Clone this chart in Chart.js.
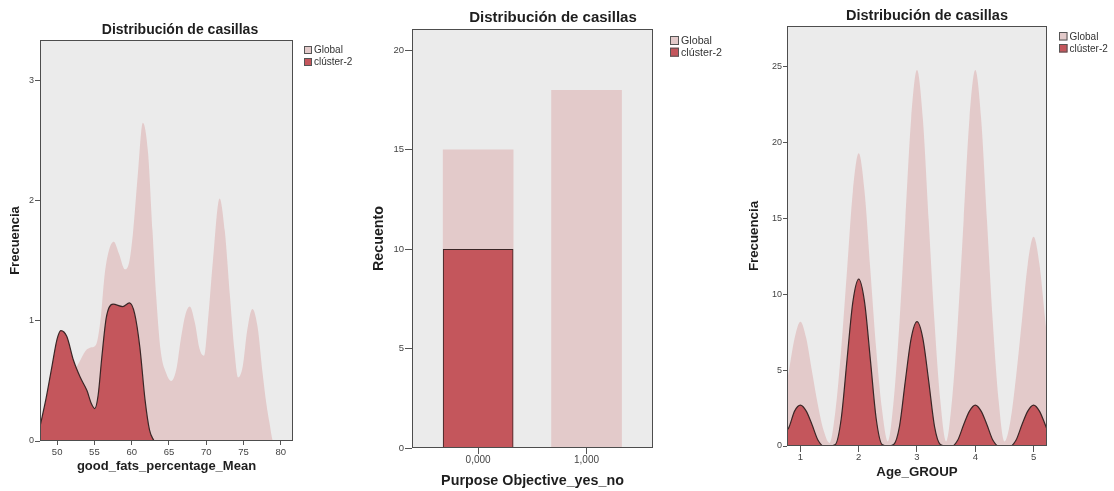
<!DOCTYPE html>
<html>
<head>
<meta charset="utf-8">
<script src="https://cdn.jsdelivr.net/npm/chart.js@4.4.1/dist/chart.umd.min.js"></script>
<style>
  body { margin: 0; background: #fff; width: 1114px; height: 491px; position: relative; overflow: hidden; }
  canvas { position: absolute; top: 0; }
</style>
</head>
<body>
<canvas id="fatChart" width="370" height="491" style="left:0"></canvas>
<canvas id="purposeChart" width="370" height="491" style="left:370px"></canvas>
<canvas id="ageChart" width="374" height="491" style="left:740px"></canvas>
<script>
// panel 1: good_fats_percentage_Mean (density)
const fatGlobalX = [47.7, 48.5, 50, 51, 52, 53, 53.8, 54.6, 55.2, 55.8, 56.4, 57, 57.6, 58.3, 59.1, 59.7, 60.2, 60.8, 61.5, 62.2, 62.8, 63.3, 63.9, 64.6, 65.3, 66, 66.6, 67.2, 67.8, 68.5, 69.1, 69.7, 70.3, 70.9, 71.8, 72.5, 73.2, 73.8, 74.3, 74.9, 75.5, 76.2, 76.9, 77.6, 78.1, 78.5, 79, 81.7];
const fatGlobal  = [0.08, 0.15, 0.3, 0.42, 0.55, 0.66, 0.75, 0.78, 0.8, 1.0, 1.4, 1.6, 1.66, 1.56, 1.43, 1.5, 1.75, 2.2, 2.65, 2.4, 1.75, 1.2, 0.75, 0.57, 0.5, 0.6, 0.85, 1.05, 1.12, 0.98, 0.77, 0.71, 1.05, 1.5, 2.02, 1.75, 1.2, 0.75, 0.53, 0.62, 0.92, 1.1, 0.95, 0.55, 0.3, 0.15, 0, 0];
const fatClusterX = [47.7, 48.5, 49.3, 50, 50.5, 51.3, 52.2, 53.1, 54, 54.6, 55.05, 55.5, 56, 56.6, 57.5, 58.8, 59.7, 60.4, 61.1, 61.8, 62.4, 63];
const fatCluster  = [0.12, 0.35, 0.62, 0.85, 0.92, 0.87, 0.67, 0.53, 0.42, 0.31, 0.27, 0.38, 0.7, 1.03, 1.14, 1.12, 1.15, 1.06, 0.78, 0.34, 0.09, 0];
const fatTicksX = [50, 55, 60, 65, 70, 75, 80];
const fatTicksY = [0, 1, 2, 3];

// panel 2: Purpose Objective_yes_no (counts)
const purposeCats    = [0, 1];
const purposeGlobal  = [15, 18];
const purposeCluster = [10, 0];
const purposeTicksY  = [0, 5, 10, 15, 20];

// panel 3: Age_GROUP (density)
const ageX = [0.77, 0.8, 0.9, 1.0, 1.1, 1.2, 1.3, 1.4, 1.5, 1.6, 1.7, 1.8, 1.9, 2.0, 2.1, 2.2, 2.3, 2.4, 2.5, 2.6, 2.7, 2.8, 2.9, 3.0, 3.1, 3.2, 3.3, 3.4, 3.5, 3.6, 3.7, 3.8, 3.9, 4.0, 4.1, 4.2, 4.3, 4.4, 4.5, 4.6, 4.7, 4.8, 4.9, 5.0, 5.1, 5.2, 5.23];
const ageGlobal  = [4.3, 4.9, 7.1, 8.2, 7.1, 4.9, 2.7, 1.0, 0.2, 2.3, 6.4, 11.6, 16.8, 19.3, 16.8, 11.6, 6.4, 2.4, 0.3, 3.0, 8.2, 14.9, 21.6, 24.8, 21.6, 14.9, 8.2, 3.0, 0.3, 3.0, 8.2, 14.9, 21.6, 24.8, 21.6, 14.9, 8.2, 3.0, 0.3, 1.6, 4.6, 8.3, 12.0, 13.8, 12.0, 8.3, 7.2];
const ageCluster = [1.05, 1.2, 2.3, 2.7, 2.3, 1.4, 0.4, 0, 0, 0.1, 1.8, 5.7, 9.5, 11.0, 9.5, 5.7, 1.8, 0.1, 0, 0.1, 1.3, 4.3, 7.1, 8.2, 7.1, 4.3, 1.3, 0.1, 0, 0, 0.4, 1.4, 2.3, 2.7, 2.3, 1.4, 0.4, 0, 0, 0, 0.4, 1.4, 2.3, 2.7, 2.3, 1.4, 1.1];
const ageTicksX = [1, 2, 3, 4, 5];
const ageTicksY = [0, 5, 10, 15, 20, 25];

const GLOBAL_FILL = '#e3caca';
const CLUSTER_FILL = '#c4565c';
const OUTLINE = '#3a2626';
const FONT = '"Liberation Sans", Arial, sans-serif';

const toPoints = (xs, ys) => xs.map((x, i) => ({ x, y: ys[i] }));

// plot background, frame, title and the little legend at the right
const panelDecor = {
  id: 'panelDecor',
  beforeDraw(chart) {
    const { ctx, chartArea: a } = chart;
    ctx.save();
    ctx.fillStyle = '#ebebeb';
    ctx.fillRect(a.left, a.top, a.right - a.left, a.bottom - a.top);
    ctx.restore();
  },
  afterDraw(chart, args, o) {
    const { ctx, chartArea: a } = chart;
    ctx.save();
    ctx.strokeStyle = '#4d4d4d';
    ctx.lineWidth = 1;
    ctx.strokeRect(Math.round(a.left) + 0.5, Math.round(a.top) + 0.5,
      Math.round(a.right - a.left) - 1, Math.round(a.bottom - a.top) - 1);

    ctx.fillStyle = '#1e1e1e';
    ctx.font = 'bold ' + o.titleSize + 'px ' + FONT;
    ctx.textAlign = 'center';
    ctx.textBaseline = 'middle';
    ctx.fillText(o.title, o.titleX, o.titleY);

    ctx.font = o.legendSize + 'px ' + FONT;
    ctx.textAlign = 'left';
    chart.data.datasets.forEach((ds, i) => {
      const y = o.legendY + i * o.legendStep;
      ctx.fillStyle = ds.backgroundColor;
      ctx.fillRect(o.legendX, y, o.box, o.box);
      ctx.strokeStyle = '#555';
      ctx.strokeRect(o.legendX + 0.5, y + 0.5, o.box - 1, o.box - 1);
      ctx.fillStyle = '#333';
      ctx.fillText(ds.label, o.legendX + o.box + 2, y + o.box / 2 + 0.5);
    });
    ctx.restore();
  }
};

function makeAxis(opts) {
  return {
    type: 'linear',
    min: opts.min,
    max: opts.max,
    offset: false,
    afterBuildTicks: axis => { axis.ticks = opts.ticks.map(v => ({ value: v })); },
    afterFit: axis => {
      if (opts.vertical) axis.width = opts.size; else axis.height = opts.size;
    },
    border: { display: false },
    grid: { display: true, offset: false, drawOnChartArea: false, drawTicks: true, tickLength: opts.tickLength, color: '#555' },
    ticks: {
      autoSkip: false, maxRotation: 0, color: '#444', padding: opts.tickPad,
      font: { family: FONT, size: opts.tickSize },
      callback: opts.fmt || (v => v)
    },
    title: {
      display: true, text: opts.title, color: '#1e1e1e',
      font: { family: FONT, size: opts.titleSize, weight: 'bold' },
      padding: opts.vertical ? { top: opts.titlePad, bottom: 0 } : { top: 0, bottom: opts.titlePad }
    }
  };
}

function densityDatasets(gx, gy, cx, cy) {
  return [
    {
      label: 'Global', data: toPoints(gx, gy), order: 2,
      fill: 'origin', backgroundColor: GLOBAL_FILL, borderWidth: 0,
      pointRadius: 0, tension: 0.4, cubicInterpolationMode: 'monotone'
    },
    {
      label: 'clúster-2', data: toPoints(cx, cy), order: 1,
      fill: 'origin', backgroundColor: CLUSTER_FILL, borderColor: OUTLINE, borderWidth: 1.2,
      pointRadius: 0, tension: 0.4, cubicInterpolationMode: 'monotone'
    }
  ];
}

const common = {
  responsive: false,
  animation: false,
  events: [],
  plugins: { legend: { display: false }, tooltip: { enabled: false } }
};

new Chart(document.getElementById('fatChart'), {
  type: 'line',
  data: { datasets: densityDatasets(fatGlobalX, fatGlobal, fatClusterX, fatCluster) },
  options: {
    ...common,
    layout: { padding: { left: 0, top: 40, right: 77, bottom: 0 } },
    plugins: {
      ...common.plugins,
      panelDecor: { title: 'Distribución de casillas', titleSize: 14, titleX: 180, titleY: 30,
        legendX: 304, legendY: 46, legendStep: 12, box: 8, legendSize: 10 }
    },
    scales: {
      x: makeAxis({ min: 47.7, max: 81.65, ticks: fatTicksX, size: 50, tickLength: 4, tickPad: 2, tickSize: 9.5,
        title: 'good_fats_percentage_Mean', titleSize: 13, titlePad: 17 }),
      y: makeAxis({ vertical: true, min: 0, max: 3.34, ticks: fatTicksY, size: 40, tickLength: 5, tickPad: 1, tickSize: 9,
        title: 'Frecuencia', titleSize: 13, titlePad: 8 })
    }
  },
  plugins: [panelDecor]
});

new Chart(document.getElementById('purposeChart'), {
  type: 'bar',
  data: {
    datasets: [
      { label: 'Global', data: toPoints(purposeCats, purposeGlobal), order: 2,
        backgroundColor: GLOBAL_FILL, borderWidth: 0, barThickness: 70, grouped: false },
      { label: 'clúster-2', data: toPoints(purposeCats, purposeCluster.map(v => v || null)), order: 1,
        backgroundColor: CLUSTER_FILL, borderColor: OUTLINE, borderWidth: 1, barThickness: 70, grouped: false }
    ]
  },
  options: {
    ...common,
    layout: { padding: { left: 0, top: 29, right: 87, bottom: 0 } },
    plugins: {
      ...common.plugins,
      panelDecor: { title: 'Distribución de casillas', titleSize: 15, titleX: 183, titleY: 18,
        legendX: 300, legendY: 36, legendStep: 11.7, box: 9, legendSize: 10.7 }
    },
    scales: {
      x: makeAxis({ min: -0.61, max: 1.613, ticks: purposeCats, size: 43, tickLength: 6, tickPad: 0, tickSize: 10,
        fmt: v => v.toFixed(3).replace('.', ','),
        title: 'Purpose Objective_yes_no', titleSize: 14.3, titlePad: 1.4 }),
      y: makeAxis({ vertical: true, min: 0, max: 21.08, ticks: purposeTicksY, size: 42, tickLength: 7, tickPad: 1, tickSize: 9.5,
        title: 'Recuento', titleSize: 14.3, titlePad: 0.5 })
    }
  },
  plugins: [panelDecor]
});

new Chart(document.getElementById('ageChart'), {
  type: 'line',
  data: { datasets: densityDatasets(ageX, ageGlobal, ageX, ageCluster) },
  options: {
    ...common,
    layout: { padding: { left: 0, top: 26, right: 67, bottom: 0 } },
    plugins: {
      ...common.plugins,
      panelDecor: { title: 'Distribución de casillas', titleSize: 14.5, titleX: 187, titleY: 16,
        legendX: 319, legendY: 32, legendStep: 12, box: 8.5, legendSize: 10 }
    },
    scales: {
      x: makeAxis({ min: 0.77, max: 5.23, ticks: ageTicksX, size: 45, tickLength: 6, tickPad: 0, tickSize: 9.5,
        title: 'Age_GROUP', titleSize: 13.3, titlePad: 11 }),
      y: makeAxis({ vertical: true, min: 0, max: 27.7, ticks: ageTicksY, size: 47, tickLength: 4, tickPad: 1, tickSize: 9,
        title: 'Frecuencia', titleSize: 13.3, titlePad: 6 })
    }
  },
  plugins: [panelDecor]
});
</script>
</body>
</html>
